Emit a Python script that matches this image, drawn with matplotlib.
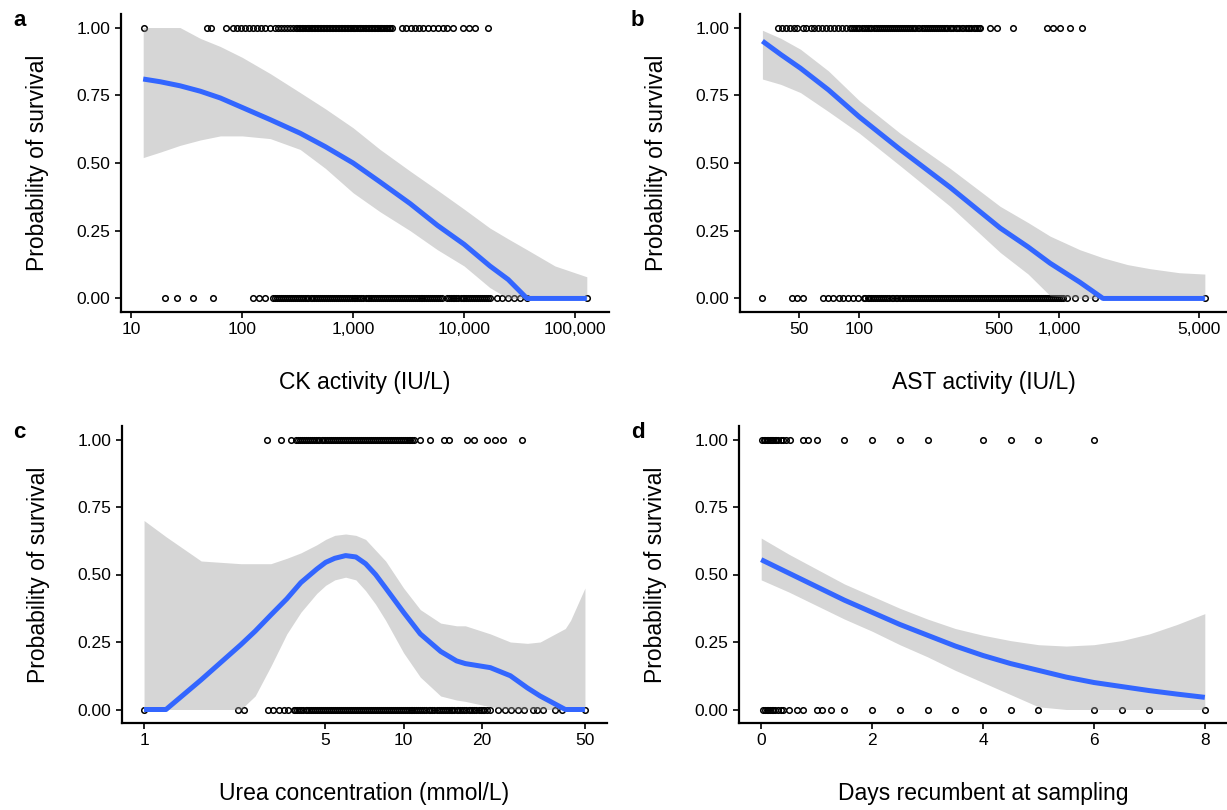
import matplotlib
matplotlib.use("Agg")
import matplotlib.pyplot as plt
from matplotlib.ticker import FixedLocator, FixedFormatter, NullLocator
import numpy as np

plt.rcParams['font.family'] = ['Liberation Sans', 'DejaVu Sans']

# ---------------- data ----------------
# panel a: CK activity (IU/L)
ck_survived = [13, 48, 52, 72, 83, 90, 98, 106, 115, 125, 136, 148, 161, 179,
               198, 210, 224, 238, 253, 270, 287, 305, 315, 325, 335, 345, 356, 368, 380,
               391, 403, 416, 430, 443, 457, 471, 486, 500, 516, 533, 550, 567, 585, 603,
               622, 642, 662, 683, 705, 727, 750, 773, 798, 823, 849, 875, 903, 931, 960,
               990, 1020, 1050, 1085, 1120, 1155, 1190, 1230, 1270, 1310, 1350, 1395,
               1440, 1485, 1530, 1580, 1630, 1680, 1730, 1785, 1840, 1900, 1960, 2025,
               2090, 2150, 2220,
               2760, 3000, 3300, 3600, 3900, 4300, 4700, 5200, 5800, 6400,
               7000, 7900, 9800, 11000, 12500, 16400]
ck_died = [20, 26, 36, 54, 125, 143, 161,
           190, 198, 206, 215, 224, 233, 243, 253, 263, 274, 286, 298, 310, 323, 336, 350,
           365, 380, 396, 413, 430, 448, 466, 486, 506, 527, 549, 572, 595, 620, 646, 673,
           701, 730, 760, 792, 825, 860, 895, 933, 971, 1010, 1050, 1095, 1140, 1190,
           1240, 1295, 1350, 1405, 1460, 1520, 1580, 1650, 1720, 1795, 1870, 1945, 2020,
           2110, 2200, 2290, 2380, 2480, 2580, 2690, 2800, 2920, 3040, 3170, 3300, 3440,
           3580, 3735, 3890, 4055, 4220, 4400, 4580, 4775, 4970, 5180, 5390, 5620, 5850,
           6100, 6350,
           7000, 7300, 7600, 7900, 8200, 8550, 8900, 9300, 9700, 10100, 10500, 10950,
           11400, 11900, 12400, 12900, 13400, 14000, 14600, 15200, 15800, 16450, 17100,
           19800, 22000, 25000, 28000, 32000, 37000, 128000]
ck_x = [12.8, 18.2, 27.5, 41.9, 63.5, 100, 179, 333, 563, 1000, 1750, 3270, 5750,
        10000, 17100, 25000, 37000, 66000, 128000]
ck_fit = [0.81, 0.80, 0.785, 0.765, 0.74, 0.705, 0.66, 0.61, 0.56, 0.50, 0.43, 0.35,
          0.27, 0.20, 0.12, 0.07, 0.0, 0.0, 0.0]
ck_lo = [0.52, 0.54, 0.565, 0.585, 0.60, 0.60, 0.59, 0.55, 0.48, 0.39, 0.32, 0.25,
         0.18, 0.12, 0.04, 0.0, 0.0, 0.0, 0.0]
ck_hi = [1.00, 1.00, 1.00, 0.96, 0.93, 0.89, 0.83, 0.76, 0.70, 0.63, 0.55, 0.47, 0.40,
         0.33, 0.26, 0.22, 0.18, 0.12, 0.08]

# panel b: AST activity (IU/L)
ast_survived = [39, 41, 43, 45, 47, 49, 52, 54, 57, 59, 62, 65, 68, 71, 75, 78, 82, 86,
                90, 92, 94, 96, 98, 100, 103, 105, 108, 110, 113, 115, 118, 121, 124, 127,
                130, 133, 136, 139, 142, 145, 149, 152, 156, 160, 163, 167, 171, 175, 179,
                183, 187, 191, 196, 200, 205, 210, 215, 220, 225, 230, 236, 241, 247, 252,
                258, 264, 270, 276, 283, 289, 296, 303, 310, 317, 325, 332, 340, 348, 356,
                364, 373, 381, 390, 397, 403, 452, 490, 589, 870, 933, 1012, 1135, 1300]
ast_died = [32.6, 46, 49, 52, 66, 70, 74, 79, 83, 88, 93, 98,
            105, 107, 110, 112, 115, 117, 120, 123, 126, 129, 132, 135, 138, 141, 145,
            148, 152, 155, 159, 162, 166, 170, 174, 178, 182, 186, 191, 195, 200, 204,
            209, 214, 219, 224, 229, 234, 240, 245, 251, 257, 263, 269, 275, 281, 288,
            295, 302, 309, 316, 323, 331, 338, 346, 354, 362, 370, 379, 388, 397, 406,
            416, 425, 435, 445, 456, 466, 477, 488, 500, 511, 523, 535, 548, 560, 573,
            586, 600, 614, 628, 643, 658, 673, 689, 705, 721, 738, 755, 772, 790, 809,
            828, 847, 866, 886, 907, 928, 950, 972, 995, 1020, 1050,
            1100, 1200, 1350, 1510, 5370]
ast_x = [32.7, 40.5, 50.7, 70, 100, 160, 285, 507, 700, 902, 1270, 1660, 2200, 2850,
         4000, 5370]
ast_fit = [0.95, 0.90, 0.85, 0.77, 0.67, 0.55, 0.41, 0.26, 0.19, 0.13, 0.06, 0.0, 0.0,
           0.0, 0.0, 0.0]
ast_lo = [0.81, 0.79, 0.76, 0.69, 0.61, 0.49, 0.34, 0.17, 0.09, 0.01, 0.0, 0.0, 0.0,
          0.0, 0.0, 0.0]
ast_hi = [0.99, 0.96, 0.92, 0.84, 0.73, 0.61, 0.48, 0.34, 0.28, 0.23, 0.18, 0.15, 0.125,
          0.11, 0.095, 0.09]

# panel c: urea concentration (mmol/L)
urea_survived = [2.99, 3.36, 3.68, 3.84, 3.91, 3.98, 4.05, 4.12, 4.2, 4.27, 4.35, 4.42,
                 4.5, 4.58, 4.66, 4.74, 4.83, 4.91, 5.0, 5.09, 5.18, 5.27, 5.36, 5.46,
                 5.55, 5.65, 5.75, 5.85, 5.95, 6.06, 6.17, 6.28, 6.39, 6.5, 6.61, 6.73,
                 6.85, 6.97, 7.1, 7.22, 7.35, 7.48, 7.61, 7.75, 7.89, 8.03, 8.17, 8.31,
                 8.46, 8.61, 8.76, 8.92, 9.08, 9.24, 9.4, 9.57, 9.74, 9.91, 10.1, 10.3,
                 10.45, 10.6, 10.8, 11.0, 11.6, 12.7, 14.3, 14.9, 17.6, 18.6, 21.0, 22.5,
                 24.2, 28.7]
urea_died = [1.0, 2.30, 2.42, 3.0, 3.15, 3.3, 3.45, 3.6, 3.77, 3.83, 3.9, 3.97, 4.04,
             4.11, 4.19, 4.26, 4.34, 4.41, 4.49, 4.57, 4.65, 4.73, 4.82, 4.9, 4.99, 5.08,
             5.17, 5.26, 5.36, 5.45, 5.55, 5.65, 5.75, 5.85, 5.95, 6.06, 6.17, 6.28,
             6.39, 6.5, 6.62, 6.74, 6.86, 6.98, 7.1, 7.23, 7.36, 7.49, 7.62, 7.75, 7.89,
             8.03, 8.18, 8.32, 8.47, 8.62, 8.77, 8.93, 9.09, 9.25, 9.41, 9.58, 9.75,
             9.92, 10.1, 10.3, 10.5, 10.65, 10.8, 11.0, 11.2, 11.4, 11.6, 11.8, 12.0,
             12.25, 12.5, 12.7, 12.9, 13.15, 13.4, 13.65, 13.9, 14.15, 14.4, 14.65,
             14.9, 15.2, 15.4, 15.7, 16.0, 16.25, 16.5, 16.8, 17.1, 17.45, 17.8, 18.1,
             18.4, 18.75, 19.1, 19.45, 19.8, 20.15, 20.5, 21.0, 21.6,
             23.2, 24.5, 26.0, 27.5, 29.0, 31.5, 32.7, 34.5, 38.4, 40.9, 50.0]
urea_x = [1.0, 1.215, 1.66, 2.36, 2.68, 3.08, 3.55, 4.02, 4.63, 5.01, 5.43, 5.98, 6.55,
          7.14, 7.8, 8.53, 10.0, 11.6, 13.9, 16.0, 17.3, 21.6, 25.8, 30.0, 33.6, 42.0,
          44.0, 50.0]
urea_fit = [0.0, 0.0, 0.11, 0.24, 0.29, 0.35, 0.41, 0.47, 0.52, 0.545, 0.56, 0.57,
            0.565, 0.54, 0.50, 0.45, 0.36, 0.28, 0.215, 0.18, 0.17, 0.155, 0.125, 0.08,
            0.05, 0.0, 0.0, 0.0]
urea_lo = [0.0, 0.0, 0.0, 0.0, 0.05, 0.16, 0.28, 0.36, 0.43, 0.46, 0.48, 0.49, 0.48,
           0.44, 0.39, 0.33, 0.21, 0.12, 0.05, 0.035, 0.03, 0.01, 0.0, 0.0, 0.0, 0.0,
           0.0, 0.0]
urea_hi = [0.70, 0.64, 0.55, 0.54, 0.54, 0.54, 0.56, 0.58, 0.61, 0.63, 0.645, 0.65,
           0.645, 0.63, 0.59, 0.55, 0.45, 0.37, 0.32, 0.31, 0.31, 0.28, 0.25, 0.245,
           0.25, 0.30, 0.33, 0.45]

# panel d: days recumbent at sampling
days_survived = [0.02, 0.05, 0.07, 0.1, 0.12, 0.15, 0.17, 0.2, 0.22, 0.25, 0.27, 0.3,
                 0.35, 0.4, 0.45, 0.52, 0.76, 0.85, 1.0, 1.5, 2.0, 2.5, 3.0, 4.0, 4.5,
                 5.0, 6.0]
days_died = [0.04, 0.07, 0.1, 0.12, 0.15, 0.2, 0.22, 0.25, 0.3, 0.35, 0.4, 0.5, 0.65,
             0.76, 1.0, 1.1, 1.26, 1.5, 2.0, 2.5, 3.0, 3.5, 4.0, 4.5, 5.0, 6.0, 6.5,
             7.0, 8.0]
days_x = [0, 0.5, 1, 1.5, 2, 2.5, 3, 3.5, 4, 4.5, 5, 5.5, 6, 6.5, 7, 7.5, 8]
days_fit = [0.555, 0.505, 0.455, 0.405, 0.36, 0.315, 0.275, 0.235, 0.20, 0.17, 0.145,
            0.12, 0.10, 0.085, 0.07, 0.057, 0.045]
days_lo = [0.48, 0.435, 0.385, 0.335, 0.29, 0.24, 0.195, 0.145, 0.10, 0.055, 0.01, 0.0,
           0.0, 0.0, 0.0, 0.0, 0.0]
days_hi = [0.635, 0.575, 0.52, 0.465, 0.42, 0.375, 0.335, 0.30, 0.275, 0.255, 0.24,
           0.235, 0.24, 0.255, 0.28, 0.315, 0.355]

ytick_vals = [0, 0.25, 0.5, 0.75, 1.0]
ytick_labels = ["0.00", "0.25", "0.50", "0.75", "1.00"]

# ---------------- figure ----------------
W, H = 1227, 810
fig = plt.figure(figsize=(W / 100, H / 100), dpi=100)


def px_axes(left, right, top, bottom):
    return fig.add_axes([left / W, 1 - bottom / H, (right - left) / W, (bottom - top) / H])


def panel(ax, surv, died, cx, fit, lo, hi, xlabel, ticks, ticklabels, log=True):
    if log:
        ax.set_xscale("log")
    ax.plot(died, np.zeros(len(died)), "o", ms=4.0, mfc="none", mec="black", mew=1.1, zorder=1)
    ax.plot(surv, np.ones(len(surv)), "o", ms=4.0, mfc="none", mec="black", mew=1.1, zorder=1)
    ax.fill_between(cx, lo, hi, color="#999999", alpha=0.4, lw=0, zorder=2)
    ax.plot(cx, fit, color="#3366FF", lw=3.6, solid_capstyle="butt",
            solid_joinstyle="round", zorder=3)
    ax.margins(x=0.05, y=0.05)
    ax.set_ylim(-0.05, 1.05)
    ax.xaxis.set_major_locator(FixedLocator(ticks))
    ax.xaxis.set_major_formatter(FixedFormatter(ticklabels))
    ax.xaxis.set_minor_locator(NullLocator())
    ax.set_yticks(ytick_vals)
    ax.set_yticklabels(ytick_labels)
    for s in ["top", "right"]:
        ax.spines[s].set_visible(False)
    for s in ["left", "bottom"]:
        ax.spines[s].set_linewidth(1.6)
    ax.tick_params(length=4.5, width=1.2, labelsize=12.5, color="black", pad=3)
    ax.set_xlabel(xlabel, fontsize=16.5, labelpad=24)
    ax.set_ylabel("Probability of survival", fontsize=16.5, labelpad=20)


ax_a = px_axes(121, 609, 14, 312)
panel(ax_a, ck_survived, ck_died, ck_x, ck_fit, ck_lo, ck_hi, "CK activity (IU/L)",
      [10, 100, 1000, 10000, 100000], ["10", "100", "1,000", "10,000", "100,000"])

ax_b = px_axes(740, 1227, 14, 312)
panel(ax_b, ast_survived, ast_died, ast_x, ast_fit, ast_lo, ast_hi, "AST activity (IU/L)",
      [50, 100, 500, 1000, 5000], ["50", "100", "500", "1,000", "5,000"])

ax_c = px_axes(122, 607, 426, 723)
panel(ax_c, urea_survived, urea_died, urea_x, urea_fit, urea_lo, urea_hi,
      "Urea concentration (mmol/L)", [1, 5, 10, 20, 50], ["1", "5", "10", "20", "50"])

ax_d = px_axes(739, 1227, 426, 723)
panel(ax_d, days_survived, days_died, days_x, days_fit, days_lo, days_hi,
      "Days recumbent at sampling", [0, 2, 4, 6, 8], ["0", "2", "4", "6", "8"], log=False)

for letter, x, y in [("a", 13, 20), ("b", 631, 20), ("c", 13, 432), ("d", 631, 432)]:
    fig.text(x / W, 1 - y / H, letter, fontsize=16, fontweight="bold", ha="left", va="center")

fig.savefig("out.png", dpi=100)
